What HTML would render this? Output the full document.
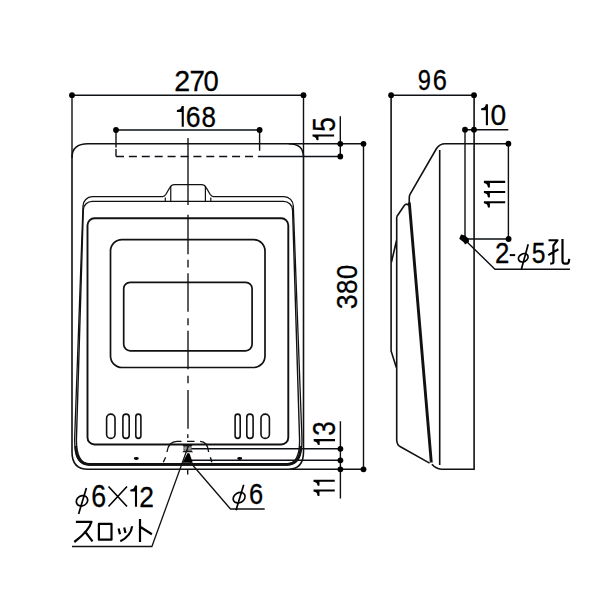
<!DOCTYPE html>
<html><head><meta charset="utf-8"><style>
html,body{margin:0;padding:0;background:#fff;width:600px;height:600px;overflow:hidden}
svg{position:absolute;left:0;top:0}
text{font-family:"Liberation Sans",sans-serif;fill:#000;stroke:#000;stroke-width:0.3px}
</style></head><body>
<svg width="600" height="600" viewBox="0 0 600 600">

<g fill="none" stroke="#0d1014" stroke-width="1.4">
<path d="M72 95.2H303.5M72 95.2V158M303.5 95.2V157"/>
<path d="M116 130H259.6M116 130V147.5M259.6 130V150.7M116 149V156.5"/>
<path d="M116 156.5H258" stroke-dasharray="8 4.9"/>
<path d="M258 156.5H340.3"/>
<path d="M288.7 143.8H363.5M340.3 116.3V156.5"/>
<path d="M363.5 143.8V469.3"/>
<path d="M340.4 421.3V498.5M190.8 448.8H340.4M190.8 460.3H340.4M290 469.3H363.5"/>
</g>
<g fill="#000">
<circle cx="72" cy="95.2" r="2.9"/><circle cx="303.5" cy="95.2" r="2.9"/>
<circle cx="116" cy="130" r="2.9"/><circle cx="259.6" cy="130" r="2.9"/>
<circle cx="340.3" cy="143.8" r="2.9"/><circle cx="340.3" cy="156.5" r="2.9"/><circle cx="363.5" cy="143.8" r="2.9"/>
<circle cx="363.5" cy="469.3" r="2.9"/>
<circle cx="340.4" cy="448.8" r="2.9"/><circle cx="340.4" cy="460.3" r="2.9"/><circle cx="340.4" cy="469.3" r="2.9"/>
</g>
<g fill="none" stroke="#111" stroke-width="1.6">
<path d="M88 143.8H288.7Q303.5 143.8 303.5 157V452Q303.5 469.3 288 469.3H88Q72 469.3 72 452V157.5Q72 143.8 88 143.8Z"/>
<path d="M83 206 A9.5 9.5 0 0 1 92.2 196.6H162.5Q164.5 196.6 165.8 194.5L170 187.3Q171.4 184.6 174.5 184.6H201.5Q204.6 184.6 206 187.3L210.2 194.5Q211.5 196.6 213.5 196.6H284A9.5 9.5 0 0 1 293.3 206L302 440Q301.8 465.1 287.5 465.1H89Q74.8 465.1 74.6 440Z" stroke-width="1.3"/>
<path d="M83.3 210 A9 8.8 0 0 1 92.5 201.4H283.3A9 8.8 0 0 1 292.6 210L299.6 440Q299.9 463.8 287 463.8H89.5Q76.4 463.8 76.4 440Z" stroke-width="1.4"/>
<path d="M75.6 446Q75.9 464.4 90 464.4H286.5Q300.9 464.4 300.8 446" stroke-width="2.5"/>
<path d="M170.75 186V201.4M205.4 186V201.4M165.3 197.4V201.4M210.8 197.4V201.4" stroke-width="1.2"/>
<rect x="87.5" y="218.3" width="200.8" height="226.2" rx="7" stroke-width="1.9"/>
<rect x="110.5" y="239.6" width="154.5" height="127.9" rx="11.5" stroke-width="1.7"/>
<rect x="123.7" y="282.3" width="128.4" height="68.5" rx="6.5" stroke-width="1.7"/>
<rect x="106.60" y="414.10" width="8.40" height="24.30" rx="4.20" stroke-width="1.6"/>
<rect x="122.90" y="414.10" width="6.30" height="24.30" rx="3.15" stroke-width="1.6"/>
<rect x="135.80" y="414.10" width="5.10" height="24.30" rx="2.55" stroke-width="1.6"/>
<rect x="235.10" y="414.10" width="5.10" height="24.30" rx="2.55" stroke-width="1.6"/>
<rect x="246.80" y="414.10" width="6.30" height="24.30" rx="3.15" stroke-width="1.6"/>
<rect x="261.00" y="414.10" width="8.40" height="24.30" rx="4.20" stroke-width="1.6"/>
</g>
<ellipse cx="136.3" cy="458.5" rx="2.5" ry="1.4" fill="#000"/>
<ellipse cx="239.7" cy="458.5" rx="2.5" ry="1.4" fill="#000"/>
<path d="M188 138V205M188 214.7V254.2M188 259.7V267.5M188 273.3V311.7M188 318.3V325.3M188 330.8V369.2M188 375.8V383.3M188 390V428.7M187.8 434.3V438M188 445V452M187.7 469V474.4" stroke="#0d1014" stroke-width="1.35" fill="none"/>
<path d="M163.3 462.3L165.6 457.2M167 452Q168.5 441.3 177 441.3H181.5M187 441.3H194.5M200.1 441.3Q207.5 441.3 208.6 452M210.4 457.2L211.8 462.3" stroke="#0d1014" stroke-width="1.35" fill="none"/>
<path d="M182 444.6H193L191.2 446.8H183.8ZM184 450.4H191.5L193.2 452.2H182.3Z" fill="#111"/><rect x="183.4" y="446.6" width="8.2" height="4" fill="#666"/><path d="M184 448.2H191M185.8 446.8V450.6M189.2 446.8V450.6" stroke="#bbb" stroke-width="0.7" fill="none"/>
<path d="M187.6 453L189.5 453.5L192.8 462.8L182.5 462.8Z" fill="#000"/>
<path d="M188.3 446.2L151.9 546.5H72M190 462L230.5 509H264.7" stroke="#111" stroke-width="1.3" fill="none"/>
<g fill="none" stroke="#111" stroke-width="1.6">
<path d="M391.1 95V351L396.3 367.5M396.7 216.7V440Q397 445 400 446.5L429.6 463.1M396.5 240.5L391.5 262M396.7 216.7L404.3 205.5Q406.5 202.8 408.7 205.5"/>
<path d="M409.3 202.5L431.3 462.5" stroke-width="2.9"/>
<path d="M431.9 464.25Q436 468.9 441.25 469.2H474.1V95M508.3 143.75H445Q440 143.75 436.5 148.5L410 194.3Q409.2 195.8 409.25 198.5V204M439.7 150V465.1"/>
</g>
<g fill="none" stroke="#0d1014" stroke-width="1.4">
<path d="M391.1 95.2H474M465 129.7V239M465 129.7H508.3M508.4 143.7V239M464 239H508.6M464 239L495 269.3H570"/>
</g>
<g fill="#000">
<circle cx="391.1" cy="95.2" r="2.9"/><circle cx="474" cy="95.2" r="2.9"/>
<circle cx="465" cy="129.7" r="2.9"/><circle cx="474" cy="129.7" r="2.9"/>
<circle cx="508.4" cy="143.7" r="2.9"/><circle cx="508.6" cy="239" r="2.9"/>
<path d="M459.25 238.75L461 234.5L465 235.5L468.75 238.75L469 242L465 244.5L464 242.5Z"/>
</g>

<g>
<text transform="translate(174.17,91.40) scale(0.985,1)" font-size="29.00">2</text>
<text transform="translate(189.42,91.40) scale(0.955,1)" font-size="29.00">7</text>
<text transform="translate(203.61,91.40) scale(0.944,1)" font-size="29.00">0</text>
<path transform="translate(182.75,126.75)" d="M1.05 -20.75V0H-1.05V-14.75H-5.40Q-6.00 -14.75 -6.00 -15.85Q-6.00 -16.95 -4.90 -16.95Q-1.6 -17.15 -1.05 -20.75Z" fill="#000"/>
<text transform="translate(185.67,126.75) scale(0.898,1)" font-size="29.64">6</text>
<text transform="translate(201.43,126.75) scale(0.876,1)" font-size="29.64">8</text>
<text transform="translate(417.64,90.00) scale(0.789,1)" font-size="30.00">9</text>
<text transform="translate(432.73,90.00) scale(0.848,1)" font-size="30.00">6</text>
<path transform="translate(486.90,125.30)" d="M1.05 -21.00V0H-1.05V-15.00H-5.20Q-5.80 -15.00 -5.80 -16.10Q-5.80 -17.20 -4.70 -17.20Q-1.6 -17.40 -1.05 -21.00Z" fill="#000"/>
<text transform="translate(490.57,125.40) scale(0.936,1)" font-size="30.14">0</text>
<path transform="translate(334.10,135.50) rotate(-90)" d="M1.05 -21.60V0H-1.05V-15.60H-4.20Q-4.80 -15.60 -4.80 -16.70Q-4.80 -17.80 -3.70 -17.80Q-1.6 -18.00 -1.05 -21.60Z" fill="#000"/>
<text transform="translate(334.60,131.75) rotate(-90) scale(0.824,1)" font-size="31.93">5</text>
<text transform="translate(357.30,309.22) rotate(-90) scale(0.913,1)" font-size="29.36">3</text>
<text transform="translate(357.30,294.01) rotate(-90) scale(0.881,1)" font-size="29.36">8</text>
<text transform="translate(357.30,279.02) rotate(-90) scale(0.871,1)" font-size="29.36">0</text>
<path transform="translate(505.20,202.20) rotate(-90)" d="M1.05 -21.30V0H-1.05V-15.30H-4.90Q-5.50 -15.30 -5.50 -16.40Q-5.50 -17.50 -4.40 -17.50Q-1.6 -17.70 -1.05 -21.30Z" fill="#000"/>
<path transform="translate(505.20,192.00) rotate(-90)" d="M1.05 -21.30V0H-1.05V-15.30H-4.90Q-5.50 -15.30 -5.50 -16.40Q-5.50 -17.50 -4.40 -17.50Q-1.6 -17.70 -1.05 -21.30Z" fill="#000"/>
<path transform="translate(505.20,181.90) rotate(-90)" d="M1.05 -21.30V0H-1.05V-15.30H-5.15Q-5.75 -15.30 -5.75 -16.40Q-5.75 -17.50 -4.65 -17.50Q-1.6 -17.70 -1.05 -21.30Z" fill="#000"/>
<path transform="translate(335.00,440.10) rotate(-90)" d="M1.05 -21.30V0H-1.05V-15.30H-4.30Q-4.90 -15.30 -4.90 -16.40Q-4.90 -17.50 -3.80 -17.50Q-1.6 -17.70 -1.05 -21.30Z" fill="#000"/>
<text transform="translate(335.30,435.79) rotate(-90) scale(0.845,1)" font-size="30.86">3</text>
<path transform="translate(334.75,490.50) rotate(-90)" d="M1.05 -21.25V0H-1.05V-15.25H-4.90Q-5.50 -15.25 -5.50 -16.35Q-5.50 -17.45 -4.40 -17.45Q-1.6 -17.65 -1.05 -21.25Z" fill="#000"/>
<path transform="translate(334.75,480.75) rotate(-90)" d="M1.05 -21.25V0H-1.05V-15.25H-4.40Q-5.00 -15.25 -5.00 -16.35Q-5.00 -17.45 -3.90 -17.45Q-1.6 -17.65 -1.05 -21.25Z" fill="#000"/>
<ellipse transform="rotate(-30 82 500.8)" cx="82" cy="500.8" rx="5.9" ry="5.0" fill="none" stroke="#000" stroke-width="1.7"/>
<path d="M86.4 487.9L78.6 514" stroke="#000" stroke-width="1.7" fill="none"/>
<text transform="translate(91.36,507.10) scale(0.867,1)" font-size="30.86">6</text>
<path d="M108.5 486.5L127 506.5M127 486.5L108.5 506.5" stroke="#000" stroke-width="1.6" fill="none"/>
<path transform="translate(136.00,506.70)" d="M1.05 -21.20V0H-1.05V-15.20H-5.20Q-5.80 -15.20 -5.80 -16.30Q-5.80 -17.40 -4.70 -17.40Q-1.6 -17.60 -1.05 -21.20Z" fill="#000"/>
<text transform="translate(139.18,506.70) scale(0.871,1)" font-size="30.29">2</text>
<ellipse transform="rotate(-30 239.15 497.7)" cx="239.15" cy="497.7" rx="6.3" ry="4.9" fill="none" stroke="#000" stroke-width="1.7"/>
<path d="M243.7 484.7L236 510.3" stroke="#000" stroke-width="1.7" fill="none"/>
<text transform="translate(249.03,503.70) scale(0.848,1)" font-size="30.00">6</text>
<text transform="translate(494.96,263.20) scale(0.873,1)" font-size="29.57">2</text>
<path d="M509.75 255.1H515.15" stroke="#000" stroke-width="2"/>
<ellipse transform="rotate(-30 523.25 257.8)" cx="523.25" cy="257.8" rx="5.0" ry="3.9" fill="none" stroke="#000" stroke-width="1.7"/>
<path d="M528.2 244.3L521.45 269" stroke="#000" stroke-width="1.7" fill="none"/>
<text transform="translate(531.71,263.20) scale(0.833,1)" font-size="29.57">5</text>
<g fill="none" stroke="#000" stroke-width="2.2" stroke-linecap="butt" stroke-linejoin="round">
<path d="M75.9 521.8H91.5Q89 531 74.3 542M84.6 531L92.5 541.3"/>
<path d="M98.9 523.9H111.5V539.7H98.9Z"/>
<path d="M118.6 528.6L120 534.2M124.2 527.5L125.5 533M132.1 526.25Q131 536 120.3 541.3"/>
<path d="M140 519.1V542M140.5 527L151.9 534.2"/>
<path d="M548.5 240.25H557.5L553.4 245.5V262Q553.4 263.6 550.2 263.6M548.2 255.1L558.4 249.3"/>
<path d="M562.5 239.1V261Q562.5 263.6 565 263.6H567Q569 263.6 569.2 258.9"/>
</g>

</g></svg></body></html>
